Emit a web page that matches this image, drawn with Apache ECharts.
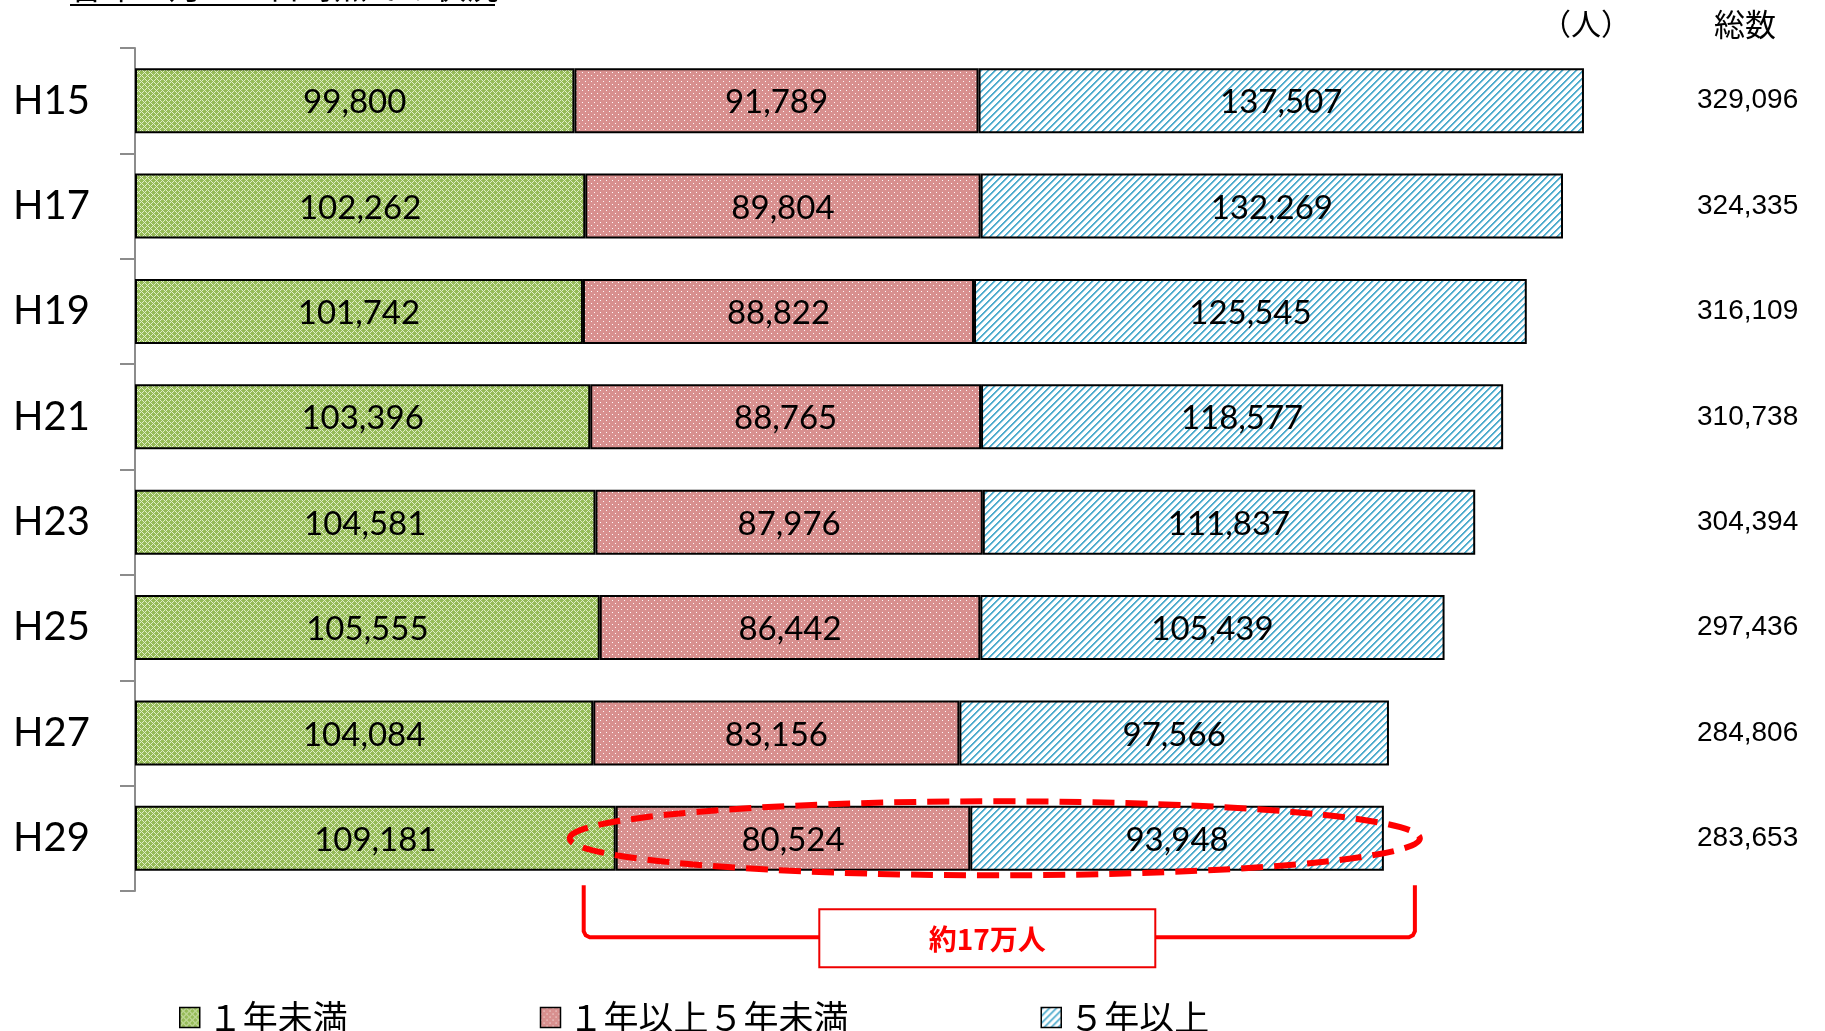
<!DOCTYPE html>
<html>
<head>
<meta charset="utf-8">
<script src="https://cdn.jsdelivr.net/npm/echarts@6/dist/echarts.min.js"></script>
<style>
  html, body { margin: 0; padding: 0; background: #fff; }
  #main { width: 1825px; height: 1031px; }
</style>
</head>
<body>
<div id="main"></div>
<script>
// データ
const years = ['H15', 'H17', 'H19', 'H21', 'H23', 'H25', 'H27', 'H29'];
const lessThan1 = [99800, 102262, 101742, 103396, 104581, 105555, 104084, 109181];
const oneToFive = [91789, 89804, 88822, 88765, 87976, 86442, 83156, 80524];
const fiveOrMore = [137507, 132269, 125545, 118577, 111837, 105439, 97566, 93948];
const totals = [329096, 324335, 316109, 310738, 304394, 297436, 284806, 283653];
const seriesNames = ['１年未満', '１年以上５年未満', '５年以上'];

const fmt = v => Number(v).toLocaleString('en-US');
const CJK = '"Noto Sans CJK JP", "Noto Sans", sans-serif';

// 塗りパターン（Excel風）
function makeTile(size, paint) {
  const c = document.createElement('canvas');
  c.width = size; c.height = size;
  const ctx = c.getContext('2d');
  const img = ctx.createImageData(size, size);
  for (let y = 0; y < size; y++) {
    for (let x = 0; x < size; x++) {
      const p = paint(x, y);
      const i = (y * size + x) * 4;
      img.data[i] = p[0]; img.data[i + 1] = p[1]; img.data[i + 2] = p[2]; img.data[i + 3] = 255;
    }
  }
  ctx.putImageData(img, 0, 0);
  return c;
}

const greenTile = makeTile(6, (x, y) => {
  if ((x + y) % 6 === 0 || (x - y + 60) % 6 === 0) return [225, 238, 200];
  return [150, 187, 88];
});
const redTile = makeTile(6, (x, y) => {
  if ((x === 0 && y === 0) || (x === 3 && y === 3)) return [255, 250, 250];
  return [216, 144, 143];
});
const blueTile = makeTile(7, (x, y) => {
  const k = (x + y) % 7;
  if (k === 0 || k === 1) return [80, 172, 205];
  if (k === 2) return [175, 218, 234];
  return [255, 255, 255];
});

const fills = [
  { image: greenTile, repeat: 'repeat' },
  { image: redTile, repeat: 'repeat' },
  { image: blueTile, repeat: 'repeat' }
];

const chart = echarts.init(document.getElementById('main'));

function makeSeries(name, data, idx) {
  return {
    name: name,
    type: 'bar',
    stack: 'total',
    barWidth: 65,
    data: data,
    itemStyle: { color: fills[idx], borderColor: '#000', borderWidth: 2 },
    label: {
      show: true,
      position: 'inside',
      offset: [0, 2],
      formatter: p => fmt(p.value),
      fontFamily: 'Lato, "Noto Sans", sans-serif',
      fontSize: 33,
      color: '#000'
    },
    emphasis: { disabled: true }
  };
}

chart.setOption({
  animation: false,
  backgroundColor: '#fff',
  grid: { left: 135, right: 149, top: 48, bottom: 140 },
  xAxis: {
    type: 'value',
    min: 0,
    max: 350000,
    show: false
  },
  yAxis: [
    {
      type: 'category',
      data: years,
      inverse: true,
      axisLine: { show: true, lineStyle: { color: '#8c8c8c', width: 2 } },
      axisTick: { show: true, length: 15, lineStyle: { color: '#8c8c8c', width: 2 } },
      axisLabel: {
        margin: 45,
        fontFamily: 'Lato, "Noto Sans", sans-serif',
        fontSize: 40,
        color: '#000'
      }
    },
    {
      type: 'category',
      data: totals.map(fmt),
      inverse: true,
      position: 'right',
      axisLine: { show: false },
      axisTick: { show: false },
      axisLabel: {
        margin: 21,
        fontFamily: '"Liberation Sans", Arial, sans-serif',
        fontSize: 28,
        color: '#000'
      }
    }
  ],
  legend: {
    left: 174,
    top: 995,
    itemWidth: 20,
    itemHeight: 20,
    itemGap: 192,
    icon: 'rect',
    itemStyle: { borderColor: '#000', borderWidth: 1.5 },
    textStyle: { fontFamily: CJK, fontSize: 35, color: '#000', padding: [0, 0, 0, 3] },
    data: seriesNames
  },
  series: [
    makeSeries(seriesNames[0], lessThan1, 0),
    makeSeries(seriesNames[1], oneToFive, 1),
    makeSeries(seriesNames[2], fiveOrMore, 2)
  ]
});

// 注記（H29 の 1年以上 の部分を囲む）
const last = years.length - 1;
const pGreen = chart.convertToPixel({ xAxisIndex: 0, yAxisIndex: 0 }, [lessThan1[last], last]);
const pEnd = chart.convertToPixel({ xAxisIndex: 0, yAxisIndex: 0 }, [totals[last], last]);
const eL = pGreen[0] - 46, eR = pEnd[0] + 36;
const bL = pGreen[0] - 32, bR = pEnd[0] + 31;
const bTop = pGreen[1] + 47, bBot = pGreen[1] + 99;
const boxW = 336, boxH = 58;
const boxX = (bL + bR) / 2 - boxW / 2 - 12;
const boxY = bBot - 28;

chart.setOption({
  graphic: [
    {
      type: 'text',
      x: 70, y: 3,
      style: {
        text: '各年６月３０日時点での状況',
        font: '33px ' + CJK, fill: '#000',
        align: 'left', verticalAlign: 'bottom'
      }
    },
    {
      type: 'line',
      shape: { x1: 70, y1: 5, x2: 495, y2: 5 },
      style: { stroke: '#000', lineWidth: 2 }
    },
    {
      type: 'text',
      x: 1586, y: 24,
      style: { text: '（人）', font: '30px ' + CJK, fill: '#000', align: 'center', verticalAlign: 'middle' }
    },
    {
      type: 'text',
      x: 1745, y: 24,
      style: { text: '総数', font: '31px ' + CJK, fill: '#000', align: 'center', verticalAlign: 'middle' }
    },
    {
      type: 'ellipse',
      z: 100,
      shape: { cx: (eL + eR) / 2, cy: pGreen[1], rx: (eR - eL) / 2, ry: 37 },
      style: { fill: 'none', stroke: '#ff0000', lineWidth: 6, lineDash: [22, 11] }
    },
    {
      type: 'polyline',
      z: 100,
      shape: {
        points: [
          [bL, bTop], [bL, bBot - 6], [bL + 2, bBot - 2], [bL + 6, bBot],
          [bR - 6, bBot], [bR - 2, bBot - 2], [bR, bBot - 6], [bR, bTop]
        ]
      },
      style: { fill: 'none', stroke: '#ff0000', lineWidth: 4 }
    },
    {
      type: 'rect',
      z: 101,
      shape: { x: boxX, y: boxY, width: boxW, height: boxH },
      style: { fill: '#fff', stroke: '#ee0000', lineWidth: 2 }
    },
    {
      type: 'text',
      z: 102,
      x: boxX + boxW / 2, y: boxY + boxH / 2 + 1,
      style: {
        text: '約17万人',
        font: 'bold 28px ' + CJK,
        fill: '#ff0000',
        align: 'center',
        verticalAlign: 'middle'
      }
    }
  ]
});

window.addEventListener('resize', () => chart.resize());
</script>
</body>
</html>
